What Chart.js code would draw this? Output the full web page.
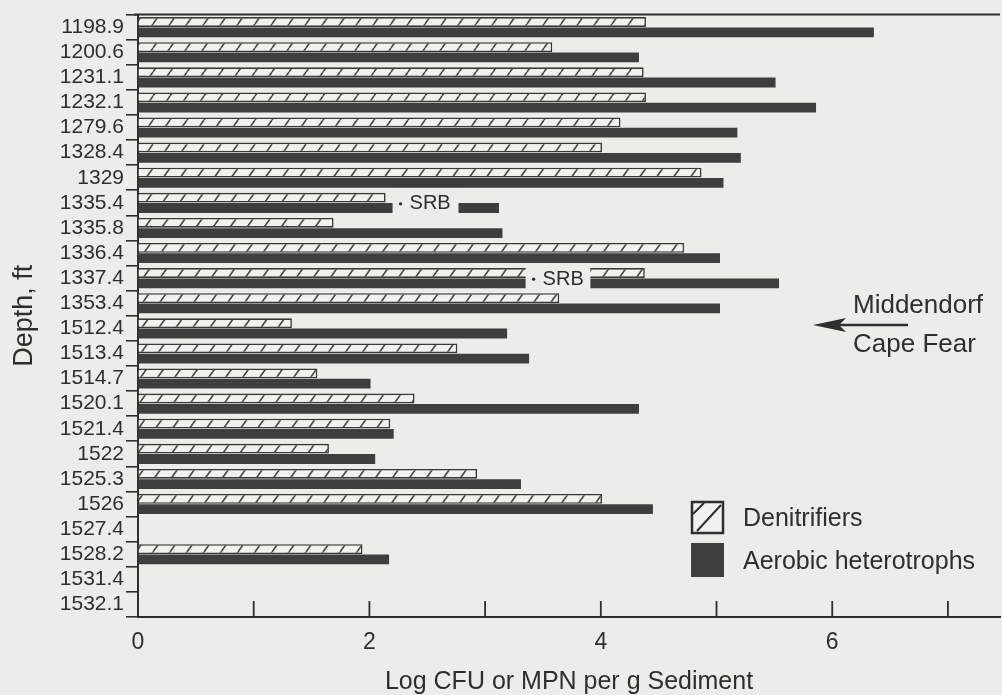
<!DOCTYPE html>
<html>
<head>
<meta charset="utf-8">
<script src="https://cdn.jsdelivr.net/npm/chart.js@4.4.0/dist/chart.umd.min.js"></script>
<style>
  html, body { margin: 0; padding: 0; background: #ececea; }
  #wrap { width: 1002px; height: 695px; }
</style>
</head>
<body>
<div id="wrap"><canvas id="chart" width="1002" height="695"></canvas></div>
<script>
const depths = ['1198.9', '1200.6', '1231.1', '1232.1', '1279.6', '1328.4', '1329', '1335.4',
    '1335.8', '1336.4', '1337.4', '1353.4', '1512.4', '1513.4', '1514.7', '1520.1', '1521.4',
    '1522', '1525.3', '1526', '1527.4', '1528.2', '1531.4', '1532.1'];

const denitrifiers = [4.39, 3.58, 4.37, 4.39, 4.17, 4.01, 4.87, 2.14, 1.69, 4.72, 4.38, 3.64,
    1.33, 2.76, 1.55, 2.39, 2.18, 1.65, 2.93, 4.01, null, 1.94, null, null];

const aerobic = [6.36, 4.33, 5.51, 5.86, 5.18, 5.21, 5.06, 3.12, 3.15, 5.03, 5.54, 5.03,
    3.19, 3.38, 2.01, 4.33, 2.21, 2.05, 3.31, 4.45, null, 2.17, null, null];

// "SRB" notes laid over the bars (value range that the label covers)
const srbDepths = ['1335.4', '1337.4'];
const srbFrom = [2.2, 3.35];
const srbTo = [2.77, 3.91];

const xTicks = [1, 2, 3, 4, 5, 6, 7];

const BG = '#ececea';
const INK = '#2e2e2e';
const BAR = '#3e3e3e';
const LIGHT = '#f1f1ef';
const FONT = "'Liberation Sans', Arial, Helvetica, sans-serif";

function makeHatch(ctx) {
    const c = document.createElement('canvas');
    c.width = 17;
    c.height = 24;
    const g = c.getContext('2d');
    g.fillStyle = LIGHT;
    g.fillRect(0, 0, 17, 24);
    g.strokeStyle = '#4a4a4a';
    g.lineWidth = 1.6;
    g.beginPath();
    g.moveTo(0, 24); g.lineTo(17, 0);
    g.moveTo(-17, 24); g.lineTo(0, 0);
    g.moveTo(17, 24); g.lineTo(34, 0);
    g.stroke();
    return ctx.createPattern(c, 'repeat');
}

const extras = {
    id: 'extras',
    afterDatasetsDraw(chart) {
        const { ctx, scales: { x, y } } = chart;
        ctx.save();
        srbDepths.forEach(function (d, i) {
            const yc = y.getPixelForValue(depths.indexOf(d));
            const x1 = x.getPixelForValue(srbFrom[i]);
            const x2 = x.getPixelForValue(srbTo[i]);
            ctx.fillStyle = BG;
            ctx.fillRect(x1, yc - 11, x2 - x1, 23);
            ctx.fillStyle = INK;
            ctx.beginPath();
            ctx.arc(x1 + 8, yc + 1, 1.7, 0, Math.PI * 2);
            ctx.fill();
            ctx.font = '20px ' + FONT;
            ctx.textAlign = 'left';
            ctx.textBaseline = 'middle';
            ctx.fillText('SRB', x1 + 17, yc + 1);
        });
        ctx.restore();
    },
    afterDraw(chart) {
        const { ctx, chartArea, scales: { x } } = chart;
        ctx.save();
        ctx.strokeStyle = INK;

        // top frame line
        ctx.lineWidth = 2;
        ctx.beginPath();
        ctx.moveTo(chartArea.left - 4, chartArea.top);
        ctx.lineTo(chartArea.right, chartArea.top);
        ctx.stroke();

        // inward ticks on x axis
        ctx.lineWidth = 1.8;
        xTicks.forEach(function (v) {
            const px = x.getPixelForValue(v);
            ctx.beginPath();
            ctx.moveTo(px, chartArea.bottom);
            ctx.lineTo(px, chartArea.bottom - 16);
            ctx.stroke();
        });

        // legend
        ctx.lineWidth = 2.5;
        ctx.fillStyle = LIGHT;
        ctx.fillRect(692, 502, 31, 31);
        ctx.strokeRect(692, 502, 31, 31);
        ctx.lineWidth = 2;
        ctx.beginPath();
        ctx.moveTo(697, 531);
        ctx.lineTo(721, 505);
        ctx.moveTo(693, 514);
        ctx.lineTo(704, 503);
        ctx.stroke();
        ctx.fillStyle = BAR;
        ctx.fillRect(691, 543, 33, 34);

        ctx.fillStyle = INK;
        ctx.font = '25px ' + FONT;
        ctx.textAlign = 'left';
        ctx.textBaseline = 'middle';
        ctx.fillText('Denitrifiers', 743, 519);
        ctx.fillText('Aerobic heterotrophs', 743, 562);

        // formation boundary
        ctx.font = '26px ' + FONT;
        ctx.fillText('Middendorf', 853, 306);
        ctx.fillText('Cape Fear', 853, 345);
        ctx.lineWidth = 2.5;
        ctx.beginPath();
        ctx.moveTo(908, 325);
        ctx.lineTo(836, 325);
        ctx.stroke();
        ctx.beginPath();
        ctx.moveTo(813, 325);
        ctx.lineTo(846, 318);
        ctx.lineTo(839, 325);
        ctx.lineTo(846, 332);
        ctx.closePath();
        ctx.fill();
        ctx.restore();
    }
};

const canvas = document.getElementById('chart');
const ctx = canvas.getContext('2d');

new Chart(ctx, {
    type: 'bar',
    data: {
        labels: depths,
        datasets: [{
            label: 'Denitrifiers',
            data: denitrifiers,
            backgroundColor: makeHatch(ctx),
            borderColor: '#383838',
            borderWidth: 1.6,
            categoryPercentage: 0.82,
            barPercentage: 0.95
        }, {
            label: 'Aerobic heterotrophs',
            data: aerobic,
            backgroundColor: BAR,
            borderWidth: 0,
            categoryPercentage: 0.82,
            barPercentage: 0.95
        }]
    },
    options: {
        indexAxis: 'y',
        responsive: false,
        animation: false,
        layout: { padding: { top: 12, right: 2 } },
        plugins: {
            legend: { display: false },
            tooltip: { enabled: false }
        },
        scales: {
            x: {
                type: 'linear',
                min: 0,
                max: 7.45,
                afterFit: function (s) { s.height = 78; },
                border: { display: true, color: INK, width: 2 },
                grid: { drawOnChartArea: false, drawTicks: false, color: 'rgba(0,0,0,0)' },
                ticks: {
                    stepSize: 1,
                    includeBounds: false,
                    autoSkip: false,
                    maxRotation: 0,
                    padding: 12,
                    color: INK,
                    font: { family: FONT, size: 23 },
                    callback: function (v) { return v % 2 === 0 ? v : ''; }
                },
                title: {
                    display: true,
                    text: 'Log CFU or MPN per g Sediment',
                    color: INK,
                    font: { family: FONT, size: 25, lineHeight: 1 },
                    padding: { top: 0, bottom: 0 }
                }
            },
            y: {
                type: 'category',
                offset: true,
                afterFit: function (s) { s.width = 138; },
                border: { display: true, color: INK, width: 2 },
                grid: { offset: true, drawOnChartArea: false, tickLength: 12, color: INK, lineWidth: 1.6 },
                ticks: {
                    autoSkip: false,
                    padding: 2,
                    color: INK,
                    font: { family: FONT, size: 21 }
                },
                title: {
                    display: true,
                    text: 'Depth, ft',
                    color: INK,
                    font: { family: FONT, size: 27, lineHeight: 1 },
                    padding: { top: 11, bottom: 0 }
                }
            }
        }
    },
    plugins: [extras]
});
</script>
</body>
</html>
